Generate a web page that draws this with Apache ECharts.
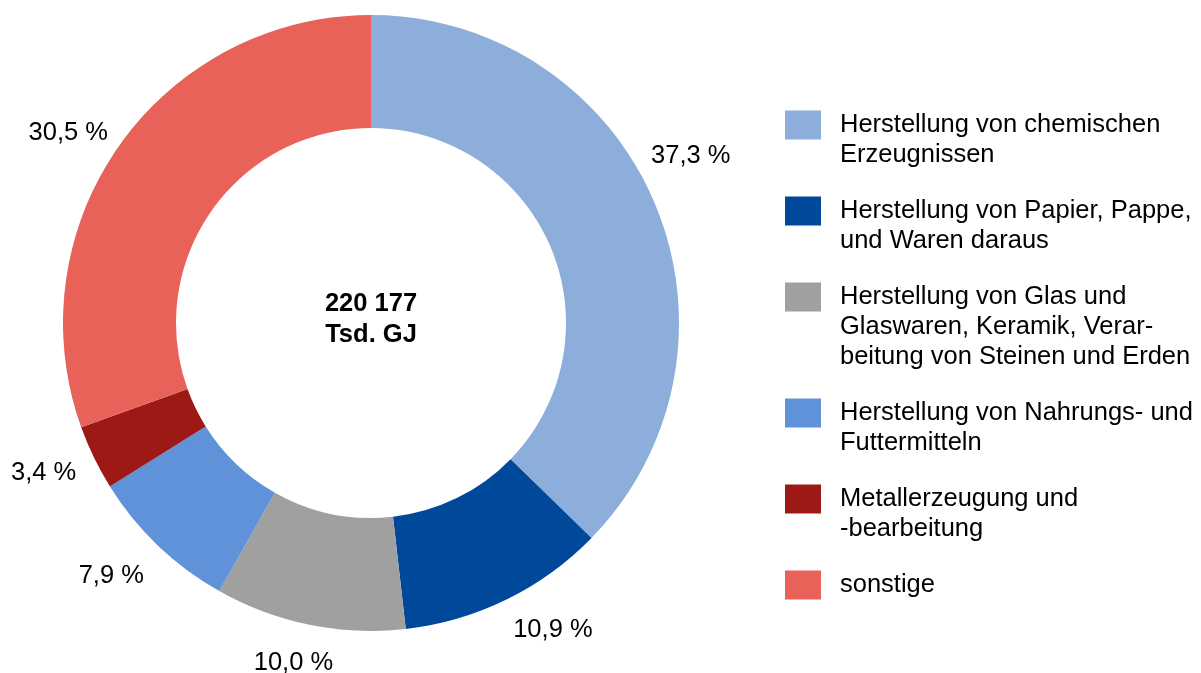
<!DOCTYPE html>
<html>
<head>
<meta charset="utf-8">
<script src="https://cdn.jsdelivr.net/npm/echarts@6/dist/echarts.min.js"></script>
<style>
  html, body { margin: 0; padding: 0; background: #ffffff; }
  #chart { width: 1201px; height: 673px; }
</style>
</head>
<body>
<div id="chart"></div>
<script>
// ---- data ----
const categories = [
  'Herstellung von chemischen Erzeugnissen',
  'Herstellung von Papier, Pappe, und Waren daraus',
  'Herstellung von Glas und Glaswaren, Keramik, Verarbeitung von Steinen und Erden',
  'Herstellung von Nahrungs- und Futtermitteln',
  'Metallerzeugung und -bearbeitung',
  'sonstige'
];
const legendLines = [
  ['Herstellung von chemischen', 'Erzeugnissen'],
  ['Herstellung von Papier, Pappe,', 'und Waren daraus'],
  ['Herstellung von Glas und', 'Glaswaren, Keramik, Verar-', 'beitung von Steinen und Erden'],
  ['Herstellung von Nahrungs- und', 'Futtermitteln'],
  ['Metallerzeugung und', '-bearbeitung'],
  ['sonstige']
];
const shares = [37.3, 10.9, 10.0, 7.9, 3.4, 30.5];
const totalValue = '220 177';
const totalUnit = 'Tsd. GJ';

// ---- styles ----
const colors = ['#8DADDB', '#00489A', '#A0A0A0', '#5F92D9', '#9C1915', '#E8625A'];
const labelNudge = [[-29, -39], [-8, 11], [33, 17], [6, 15], [7, 6], [12, 0]];
const FONT = '"Liberation Sans", Arial, sans-serif';

const chart = echarts.init(document.getElementById('chart'), null, { renderer: 'canvas' });

const fmtShare = v => v.toFixed(1).replace('.', ',') + ' %';

chart.setOption({
  animation: false,
  color: colors,
  legend: {
    orient: 'vertical',
    left: 785,
    top: 110,
    padding: 0,
    itemGap: 28,
    itemWidth: 36,
    itemHeight: 29,
    icon: 'rect',
    selectedMode: false,
    data: categories,
    formatter: name => legendLines[categories.indexOf(name)].join('\n'),
    textStyle: {
      fontFamily: FONT,
      fontSize: 25.5,
      color: '#000',
      lineHeight: 30,
      height: 30,
      padding: [0, 0, 0, 14],
      rich: { r: {} }
    }
  },
  graphic: [{
    type: 'text',
    x: 371,
    y: 319.5,
    style: {
      text: totalValue + '\n' + totalUnit,
      align: 'center',
      verticalAlign: 'middle',
      font: 'bold 25.5px ' + FONT,
      lineHeight: 30.5,
      fill: '#000'
    }
  }],
  series: [{
    type: 'pie',
    center: [371, 323],
    radius: [195, 308],
    startAngle: 90,
    clockwise: true,
    avoidLabelOverlap: false,
    itemStyle: { borderWidth: 0 },
    emphasis: { disabled: true },
    label: {
      show: true,
      position: 'outside',
      fontFamily: FONT,
      fontSize: 25.5,
      color: '#000',
      distanceToLabelLine: 5,
      formatter: p => fmtShare(p.value)
    },
    labelLine: { show: false, length: 22, length2: 0 },
    labelLayout: params => {
      const n = labelNudge[params.dataIndex];
      const r = params.labelRect;
      return {
        x: r.x + r.width / 2 + n[0],
        y: r.y + r.height / 2 + n[1],
        align: 'center',
        verticalAlign: 'middle'
      };
    },
    data: categories.map((c, i) => ({ name: c, value: shares[i] }))
  }]
});
</script>
</body>
</html>
